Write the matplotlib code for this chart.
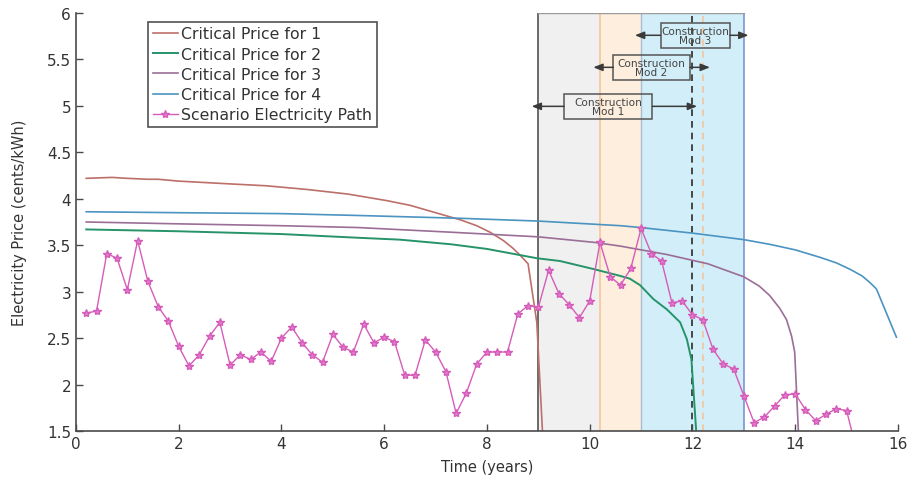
"""Critical electricity prices vs. a scenario electricity price path."""

import matplotlib

matplotlib.use("Agg")
import matplotlib.pyplot as plt  # noqa:E402
from matplotlib.patches import Rectangle  # noqa:E402

# Scenario electricity path, one point every 0.2 years
path_t = [round(0.2 * (i + 1), 1) for i in range(76)]
path_price = [
    2.77, 2.79, 3.41, 3.36, 3.02, 3.55, 3.11, 2.84, 2.68, 2.41,
    2.20, 2.32, 2.52, 2.67, 2.21, 2.32, 2.27, 2.35, 2.25, 2.50,
    2.62, 2.45, 2.32, 2.24, 2.54, 2.40, 2.35, 2.65, 2.45, 2.51,
    2.46, 2.10, 2.10, 2.48, 2.35, 2.14, 1.69, 1.91, 2.22, 2.35,
    2.35, 2.35, 2.76, 2.85, 2.83, 3.23, 2.98, 2.86, 2.72, 2.90,
    3.53, 3.16, 3.07, 3.25, 3.68, 3.41, 3.33, 2.88, 2.90, 2.75,
    2.70, 2.38, 2.22, 2.17, 1.88, 1.59, 1.65, 1.77, 1.89, 1.90,
    1.73, 1.61, 1.68, 1.74, 1.72, 1.28,
]

# Critical price curves
crit1_t = [0.2, 0.7, 1.0, 1.4, 1.6, 2.0, 3.0, 3.7, 4.5, 5.3, 6.05, 6.5, 7.0,
           7.5, 7.8, 8.06, 8.32, 8.5, 8.65, 8.8, 8.97, 9.08, 9.12]
crit1_p = [4.22, 4.23, 4.22, 4.21, 4.21, 4.19, 4.16, 4.14, 4.10, 4.05, 3.98,
           3.93, 3.85, 3.77, 3.71, 3.64, 3.55, 3.47, 3.39, 3.30, 2.67, 1.5, 1.2]

crit2_t = [0.2, 2.0, 4.0, 5.5, 6.3, 7.3, 8.0, 8.97, 9.42, 10.1, 10.59, 10.78,
           10.98, 11.24, 11.5, 11.76, 11.89, 11.98, 12.07, 12.1]
crit2_p = [3.67, 3.65, 3.62, 3.58, 3.56, 3.51, 3.46, 3.36, 3.33, 3.24, 3.17,
           3.14, 3.07, 2.92, 2.81, 2.67, 2.49, 2.27, 1.52, 1.2]

crit3_t = [0.2, 2.0, 4.0, 5.5, 7.3, 9.0, 10.1, 10.6, 11.5, 12.3, 13.0, 13.3,
           13.5, 13.7, 13.83, 13.93, 13.99, 14.06, 14.08]
crit3_p = [3.75, 3.73, 3.71, 3.69, 3.64, 3.59, 3.53, 3.49, 3.40, 3.30, 3.16,
           3.06, 2.96, 2.82, 2.70, 2.52, 2.35, 1.52, 1.2]

crit4_t = [0.2, 2.0, 4.0, 5.5, 7.47, 9.0, 10.6, 11.0, 12.0, 13.0, 13.5, 14.0,
           14.48, 14.8, 15.07, 15.3, 15.45, 15.58, 15.97]
crit4_p = [3.86, 3.85, 3.84, 3.82, 3.79, 3.76, 3.71, 3.69, 3.63, 3.56, 3.51,
           3.45, 3.37, 3.31, 3.24, 3.17, 3.10, 3.03, 2.51]

# Construction windows: (start, end, face, edge)
windows = [
    (9.0, 10.2, "#f0f0f0", "#5f5f5f"),
    (10.2, 11.0, "#fdeedd", "#f6c9a2"),
    (11.0, 13.0, "#d2eef9", "#7f93cf"),
]

# Construction module annotations: label, y, box left, box right, arrow tips
mods = [
    ("Construction\nMod 1", 4.995, 9.50, 11.22, 8.87, 12.09),
    ("Construction\nMod 2", 5.415, 10.46, 11.95, 10.07, 12.34),
    ("Construction\nMod 3", 5.76, 11.38, 12.73, 10.88, 13.09),
]

fig = plt.figure(figsize=(9.12, 4.81), dpi=100)
ax = fig.add_axes([0.0833, 0.1019, 0.9013, 0.869])

for x0, x1, face, edge in windows:
    ax.add_patch(Rectangle((x0, 1.5), x1 - x0, 4.5, facecolor=face,
                           edgecolor="none", zorder=0))
ax.axvline(9.0, color="#5f5f5f", lw=1.3, zorder=1)
ax.axvline(10.2, color="#f6c9a2", lw=1.3, zorder=1)
ax.axvline(11.0, color="#a9bfd0", lw=1.0, zorder=1)
ax.axvline(13.0, color="#7f93cf", lw=1.2, zorder=1)
ax.plot([9.0, 13.0], [6.0, 6.0], color="#9a9a9a", lw=1.0, zorder=1)
ax.axvline(12.0, color="#2b2b2b", lw=1.2, ls=(0, (4, 3)), zorder=1.5)
ax.axvline(12.2, color="#f3c59c", lw=1.2, ls=(0, (4, 3)), zorder=1.5)

ax.plot(crit1_t, crit1_p, color="#bd6f69", lw=1.2, label="Critical Price for 1")
ax.plot(crit2_t, crit2_p, color="#26936a", lw=1.4, label="Critical Price for 2")
ax.plot(crit3_t, crit3_p, color="#9a6e96", lw=1.2, label="Critical Price for 3")
ax.plot(crit4_t, crit4_p, color="#4b93c1", lw=1.2, label="Critical Price for 4")
ax.plot(path_t, path_price, color="#d65cba", lw=1.0, marker="*", ms=6,
        mec="#d65cba", mfc="#e07ccb", label="Scenario Electricity Path")

for label, y, bl, br, tl, tr in mods:
    xc = (bl + br) / 2
    ax.text(xc, y, label, ha="center", va="center", fontsize=7.6,
            color="#444444", linespacing=0.85, zorder=5)
    ax.add_patch(Rectangle((bl, y - 0.135), br - bl, 0.27, facecolor="none",
                           edgecolor="#555555", lw=1.1, zorder=5))
    for start, tip in ((bl, tl), (br, tr)):
        ax.annotate("", xy=(tip, y), xytext=(start, y), zorder=5,
                    arrowprops=dict(arrowstyle="-|>,head_length=0.55,head_width=0.22",
                                    color="#3a3a3a", lw=1.1,
                                    shrinkA=0, shrinkB=0))

ax.set_xlim(0, 16)
ax.set_ylim(1.5, 6)
ax.set_xticks(range(0, 17, 2))
ax.set_yticks([1.5, 2, 2.5, 3, 3.5, 4, 4.5, 5, 5.5, 6])
ax.set_yticklabels(["1.5", "2", "2.5", "3", "3.5", "4", "4.5", "5", "5.5", "6"])
for side in ("top", "right"):
    ax.spines[side].set_visible(False)
for side in ("left", "bottom"):
    ax.spines[side].set_color("#4a4a4a")
    ax.spines[side].set_linewidth(1.2)
ax.tick_params(direction="in", length=5, width=1, color="#4a4a4a",
               labelsize=11, labelcolor="#333333")
ax.set_xlabel("Time (years)", fontsize=10.5, color="#333333", labelpad=6)
ax.set_ylabel("Electricity Price (cents/kWh)", fontsize=10.5, color="#333333",
              labelpad=14)

leg = ax.legend(loc="upper left", bbox_to_anchor=(0.0876, 0.979),
                borderaxespad=0, fontsize=11.3, frameon=True, fancybox=False,
                handlelength=1.6, handletextpad=0.2, labelspacing=0.33,
                borderpad=0.3, labelcolor="#333333")
leg.get_frame().set_edgecolor("#262626")
leg.get_frame().set_linewidth(1.2)

fig.savefig("out.png", dpi=100)
